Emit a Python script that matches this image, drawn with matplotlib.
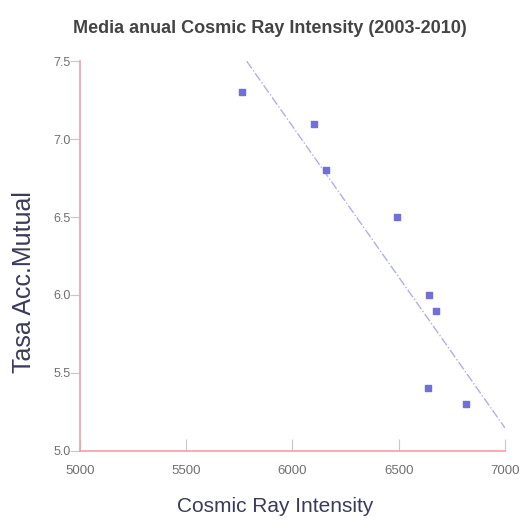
import numpy as np
import matplotlib.pyplot as plt

# annual means 2003-2010
cosmic = [5762, 6101, 6160, 6492, 6642, 6675, 6640, 6816]
tasa = [7.3, 7.1, 6.8, 6.5, 6.0, 5.9, 5.4, 5.3]

plt.rcParams['font.family'] = ['Liberation Sans', 'DejaVu Sans']

fig = plt.figure(figsize=(5.27, 5.23), dpi=100)
ax = fig.add_axes([0.152, 0.138, 0.806, 0.745])

ax.scatter(cosmic, tasa, marker='s', s=22, color='#7070d8', zorder=3)

# linear trend, clipped to the plot box
m, b = np.polyfit(cosmic, tasa, 1)
x0 = (7.5 - b) / m
xs = np.array([x0, 7000])
ax.plot(xs, m * xs + b, linestyle='-.', color='#b0b0e8', lw=1.0)

ax.set_xlim(5000, 7000)
ax.set_ylim(5.0, 7.5)
ax.set_xticks([5000, 5500, 6000, 6500, 7000])
ax.set_yticks([5.0, 5.5, 6.0, 6.5, 7.0, 7.5])
ax.set_yticklabels(['5.0', '5.5', '6.0', '6.5', '7.0', '7.5'])

for s in ['top', 'right']:
    ax.spines[s].set_visible(False)
for s in ['left', 'bottom']:
    ax.spines[s].set_color('#f2a0a8')
    ax.spines[s].set_linewidth(1.2)

ax.tick_params(axis='x', direction='in', length=9, color='#c8c8c8',
               labelsize=9.5, labelcolor='#707070', pad=10)
ax.tick_params(axis='y', direction='out', length=7, color='#c8c8c8',
               labelsize=9, labelcolor='#707070', pad=0)

ax.set_title('Media anual Cosmic Ray Intensity (2003-2010)', fontsize=13,
             fontweight='bold', color='#444444', pad=20, x=0.447)
ax.set_xlabel('Cosmic Ray Intensity', fontsize=15, color='#3a3a5c')
ax.set_ylabel('Tasa Acc.Mutual', fontsize=18, color='#3a3a5c')
ax.xaxis.set_label_coords(0.459, -0.118)
ax.yaxis.set_label_coords(-0.104, 0.433)

plt.savefig('out.png', dpi=100)
